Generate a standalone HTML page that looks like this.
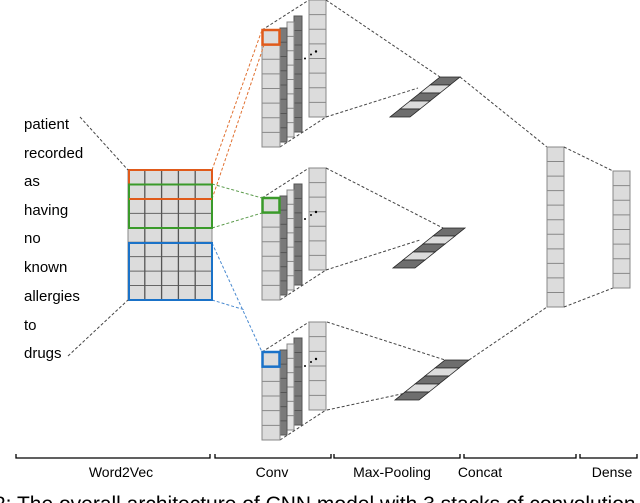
<!DOCTYPE html>
<html><head><meta charset="utf-8"><style>
html,body{margin:0;padding:0;background:#fff;width:640px;height:503px;overflow:hidden}
svg{display:block}
text{font-family:"Liberation Sans",sans-serif}
</style></head><body>
<svg id="s" width="640" height="503" viewBox="0 0 640 503" xmlns="http://www.w3.org/2000/svg">
<g id="g"></g>
<g font-size="15" fill="#000">
<text x="24" y="129">patient</text>
<text x="24" y="158">recorded</text>
<text x="24" y="186">as</text>
<text x="24" y="215">having</text>
<text x="24" y="243">no</text>
<text x="24" y="272">known</text>
<text x="24" y="301">allergies</text>
<text x="24" y="330">to</text>
<text x="24" y="358">drugs</text>
</g>
<g font-size="14" fill="#000" text-anchor="middle">
<text x="121" y="477">Word2Vec</text>
<text x="272" y="477">Conv</text>
<text x="392" y="477">Max-Pooling</text>
<text x="480" y="477">Concat</text>
<text x="612" y="477">Dense</text>
</g>
<text x="-6" y="511" font-family="Liberation Serif,serif" font-size="21">2: The overall architecture of CNN model with 3 stacks of convolution filters</text>
</svg>
<script>
var g=document.getElementById('g'),NS='http://www.w3.org/2000/svg';
function el(t,a){var e=document.createElementNS(NS,t);for(var k in a)e.setAttribute(k,a[k]);g.appendChild(e);return e;}
function col(x,y,w,h,n,fill,st){el('rect',{x:x,y:y,width:w,height:h,fill:fill,stroke:st||'#777','stroke-width':1});
 for(var i=1;i<n;i++){var yy=y+h*i/n;el('line',{x1:x,y1:yy,x2:x+w,y2:yy,stroke:st||'#666','stroke-width':1});}}
function dash(x1,y1,x2,y2,c){el('line',{x1:x1,y1:y1,x2:x2,y2:y2,stroke:c||'#444','stroke-width':1,'stroke-dasharray':'3,2'});}
function stack(y0,h,n,c){
 var ch=h/n;
 dash(262,y0+30,309,y0,null);dash(280,y0+30+h,326,y0+h);
 col(309,y0,17,h,n,'#dcdcdc','#888');
 var my=y0+h/2;
 el('circle',{cx:305,cy:my,r:1,fill:'#000'});el('circle',{cx:311,cy:my-4,r:1,fill:'#000'});el('circle',{cx:316,cy:my-7,r:1.2,fill:'#000'});
 col(294,y0+16,8,h-1,n,'#7a7a7a','#555');
 col(287,y0+22,7,h-2,n,'#e2e2e2','#888');
 col(280,y0+28,7,h-3,n,'#7a7a7a','#555');
 col(262,y0+30,18,h,n,'#dcdcdc','#888');
 el('rect',{x:262.5,y:y0+30,width:17,height:ch,fill:'none',stroke:c,'stroke-width':2.5});
}
function pool(tx,ty,w){
 var n=5,dx=-10,dy=8;
 for(var i=0;i<n;i++){var x=tx+dx*i,y=ty+dy*i;
  el('polygon',{points:(x)+','+y+' '+(x+w)+','+y+' '+(x+w+dx)+','+(y+dy)+' '+(x+dx)+','+(y+dy),fill:i%2?'#dcdcdc':'#6e6e6e',stroke:'#222','stroke-width':0.8});}
}
stack(0,117,8,'#e05a1a');stack(168,102,7,'#3a9a2a');stack(322,88,6,'#1a72c8');
dash(326,0,440,77);dash(326,117,418,88);
dash(326,168,443,228);dash(326,270,420,240);
dash(327,322,445,360);dash(327,410,420,390);
pool(440,77,20);pool(443,228,22);pool(445,360,24);
dash(460,77,547,147);dash(469,360,547,307);
col(547,147,17,160,11,'#dcdcdc','#888');
dash(564,147,613,171);dash(564,307,613,288);
col(613,171,17,117,8,'#dcdcdc','#888');
var gx=128,gy=170,cw=16.8,rh=14.44;
el('rect',{x:gx,y:gy,width:84,height:130,fill:'#dcdcdc',stroke:'#888'});
for(var i=1;i<9;i++)el('line',{x1:gx,y1:gy+rh*i,x2:gx+84,y2:gy+rh*i,stroke:'#666'});
for(var j=1;j<5;j++)el('line',{x1:gx+cw*j,y1:gy,x2:gx+cw*j,y2:gy+130,stroke:'#555','stroke-width':1.3});
dash(212,170,262,30,'#e07030');dash(212,199,264,45,'#e07030');
dash(212,184,262,198,'#5a9a4a');dash(212,228,262,213,'#5a9a4a');
dash(212,243,262,352,'#4a8ad0');dash(212,300,245,310,'#4a8ad0');
el('rect',{x:129,y:170,width:83,height:29,fill:'none',stroke:'#e05a1a','stroke-width':2});
el('rect',{x:129,y:184.5,width:83,height:43.5,fill:'none',stroke:'#3a9a2a','stroke-width':2});
el('line',{x1:129,y1:199,x2:212,y2:199,stroke:'#e05a1a','stroke-width':2});
el('rect',{x:129,y:243,width:83,height:57,fill:'none',stroke:'#1a72c8','stroke-width':2});
dash(80,117,128,170);dash(68,356,128,300);
[[16,210],[215,331],[334,460],[464,576],[580,637]].forEach(function(b){
 el('path',{d:'M'+b[0]+' 454 L'+b[0]+' 458 L'+b[1]+' 458 L'+b[1]+' 454',fill:'none',stroke:'#000','stroke-width':1.3});});
</script>
</body></html>
